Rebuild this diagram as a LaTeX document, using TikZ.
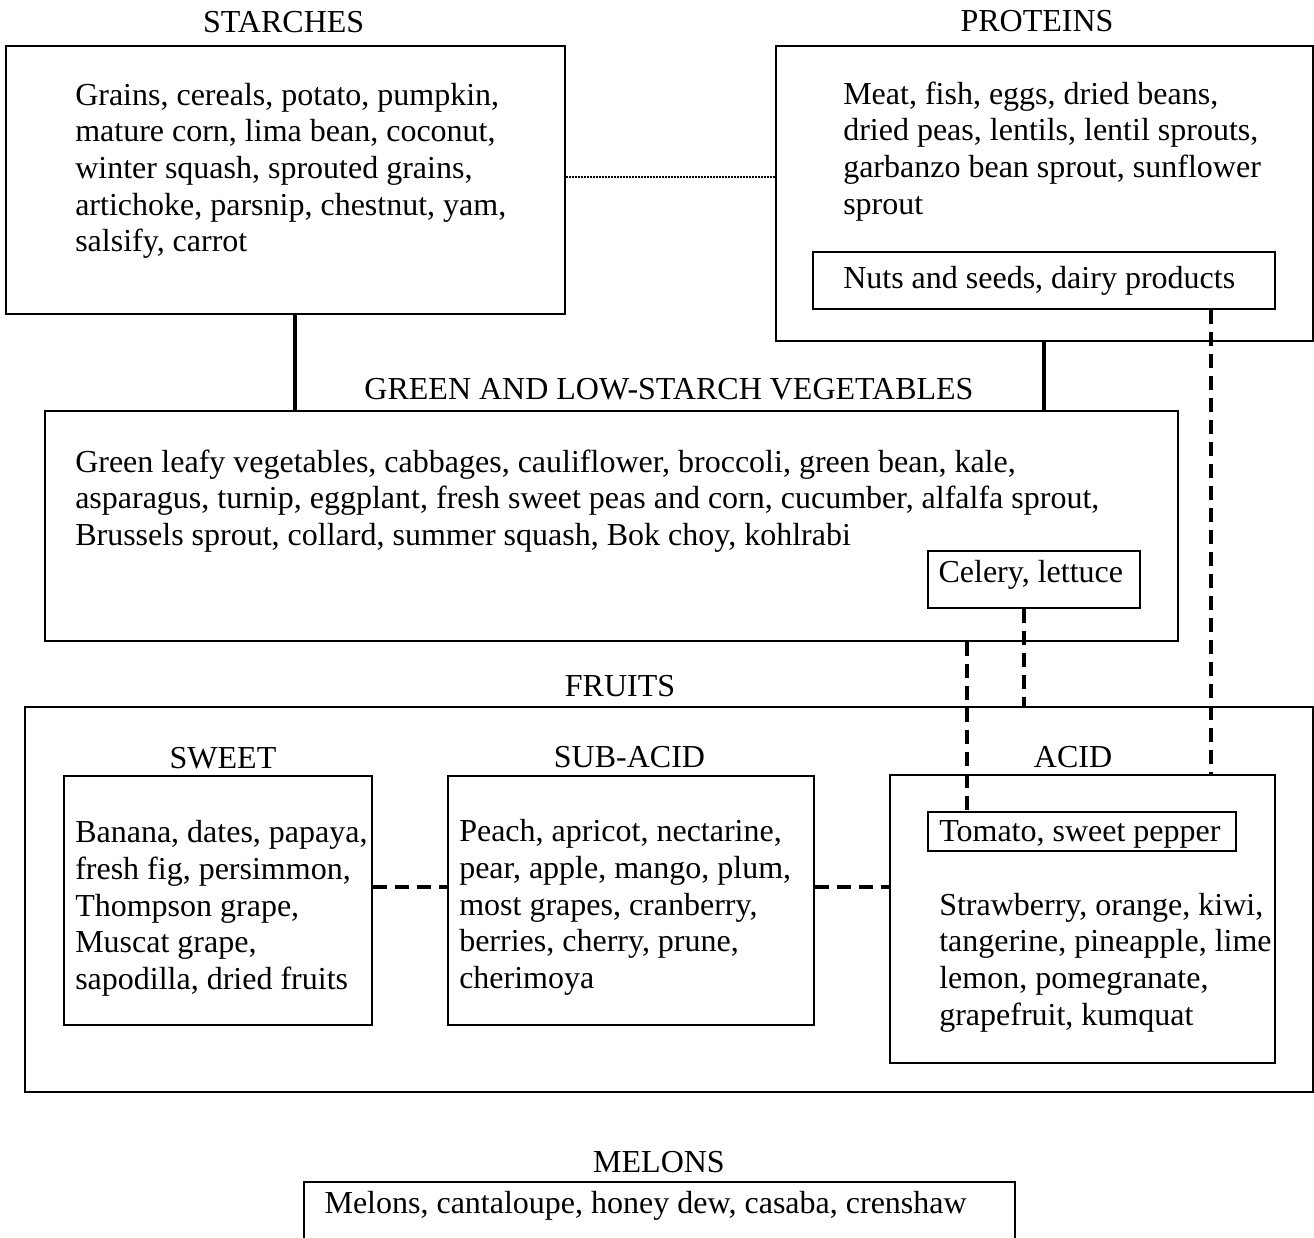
\documentclass[tikz,border=0pt]{standalone}
\usepackage{fontspec}
\setmainfont{Liberation Serif}
\usetikzlibrary{fit}
\tikzset{
  box/.style={draw, line width=1.5pt, inner sep=0pt},
  body/.style={anchor=north west, inner sep=0pt, align=left, font=\fontsize{24}{27.5}\selectfont},
  lbl/.style={anchor=base, inner sep=0pt, font=\fontsize{24}{27.5}\selectfont},
  solidlink/.style={line width=3pt},
  dashlink/.style={line width=3pt, dash pattern=on 10.5pt off 6pt},
  dotlink/.style={line width=1.125pt, dash pattern=on 1.125pt off 1.125pt},
}
\begin{document}
\begin{tikzpicture}[x=0.75pt,y=-0.75pt]
\useasboundingbox (0,0) rectangle (1314,1238);
\clip (0,0) rectangle (1314,1238);

% boxes
\node[box, fit={(6,45.7) (565,314)}] (starch) {};
\node[box, fit={(776,45.7) (1313,340.7)}] (prot) {};
\node[box, fit={(813,251.7) (1275,309.3)}] (nuts) {};
\node[box, fit={(45,410.7) (1178.3,640.7)}] (veg) {};
\node[box, fit={(928,550.7) (1140.3,608)}] (celery) {};
\node[box, fit={(25,706.7) (1312.5,1091.7)}] (fruits) {};
\node[box, fit={(64,775.7) (372.3,1025)}] (sweet) {};
\node[box, fit={(448.3,775.7) (814,1025)}] (subacid) {};
\node[box, fit={(890,775) (1275,1063.3)}] (acid) {};
\node[box, fit={(927.7,811.7) (1236,850.7)}] (tomato) {};
\node[box, fit={(304,1182.3) (1015,1270)}] (melons) {};

% labels
\node[lbl] (lstarch) at (283.7,32.3) {STARCHES};
\node[lbl] (lprot) at (1037,32) {PROTEINS};
\node[lbl] (lveg) at (669,399.5) {GREEN AND LOW-STARCH VEGETABLES};
\node[lbl] (lfruits) at (620,696) {FRUITS};
\node[lbl] (lsweet) at (223,768) {SWEET};
\node[lbl] (lsubacid) at (629.5,767.7) {SUB-ACID};
\node[lbl] (lacid) at (1073,767.3) {ACID};
\node[lbl] (lmelons) at (659,1172) {MELONS};

% body texts (top = baseline - 25.67)
\node[body] (tstarch) at (75,79.33) {\strut Grains, cereals, potato, pumpkin,\\mature corn, lima bean, coconut,\\winter squash, sprouted grains,\\artichoke, parsnip, chestnut, yam,\\salsify, carrot};
\node[body] (tprot) at (843,78.33) {\strut Meat, fish, eggs, dried beans,\\dried peas, lentils, lentil sprouts,\\garbanzo bean sprout, sunflower\\sprout};
\node[body] (tnuts) at (843,262.63) {\strut Nuts and seeds, dairy products};
\node[body] (tveg) at (75,446.33) {\strut Green leafy vegetables, cabbages, cauliflower, broccoli, green bean, kale,\\asparagus, turnip, eggplant, fresh sweet peas and corn, cucumber, alfalfa sprout,\\Brussels sprout, collard, summer squash, Bok choy, kohlrabi};
\node[body] (tcelery) at (938.3,557.03) {\strut Celery, lettuce};
\node[body] (tsweet) at (75,817.03) {\strut Banana, dates, papaya,\\fresh fig, persimmon,\\Thompson grape,\\Muscat grape,\\sapodilla, dried fruits};
\node[body] (tsubacid) at (459,816.03) {\strut Peach, apricot, nectarine,\\pear, apple, mango, plum,\\most grapes, cranberry,\\berries, cherry, prune,\\cherimoya};
\node[body] (ttomato) at (939,816.03) {\strut Tomato, sweet pepper};
\node[body] (tacid) at (939,889.33) {\strut Strawberry, orange, kiwi,\\tangerine, pineapple, lime\\lemon, pomegranate,\\grapefruit, kumquat};
\node[body] (tmelons) at (324.3,1187.33) {\strut Melons, cantaloupe, honey dew, casaba, crenshaw};

% connector guide coordinates
\coordinate (xa) at (295,0);
\coordinate (xb) at (1044,0);
\coordinate (xc) at (1210.7,0);
\coordinate (xd) at (1024.3,0);
\coordinate (xe) at (966.7,0);
\coordinate (yd) at (0,177);
\coordinate (yf) at (0,887);

% connectors
\draw[solidlink] (xa |- starch.south) -- (xa |- veg.north);
\draw[solidlink] (xb |- prot.south) -- (xb |- veg.north);
\draw[dotlink] (starch.east |- yd) -- (prot.west |- yd);
\draw[dashlink] (xc |- nuts.south) -- (xc |- acid.north);
\draw[dashlink] (xd |- celery.south) -- (xd |- fruits.north);
\draw[dashlink] (xe |- veg.south) -- (xe |- tomato.north);
\draw[dashlink] (sweet.east |- yf) -- (subacid.west |- yf);
\draw[dashlink] (subacid.east |- yf) -- (acid.west |- yf);
\end{tikzpicture}
\end{document}
